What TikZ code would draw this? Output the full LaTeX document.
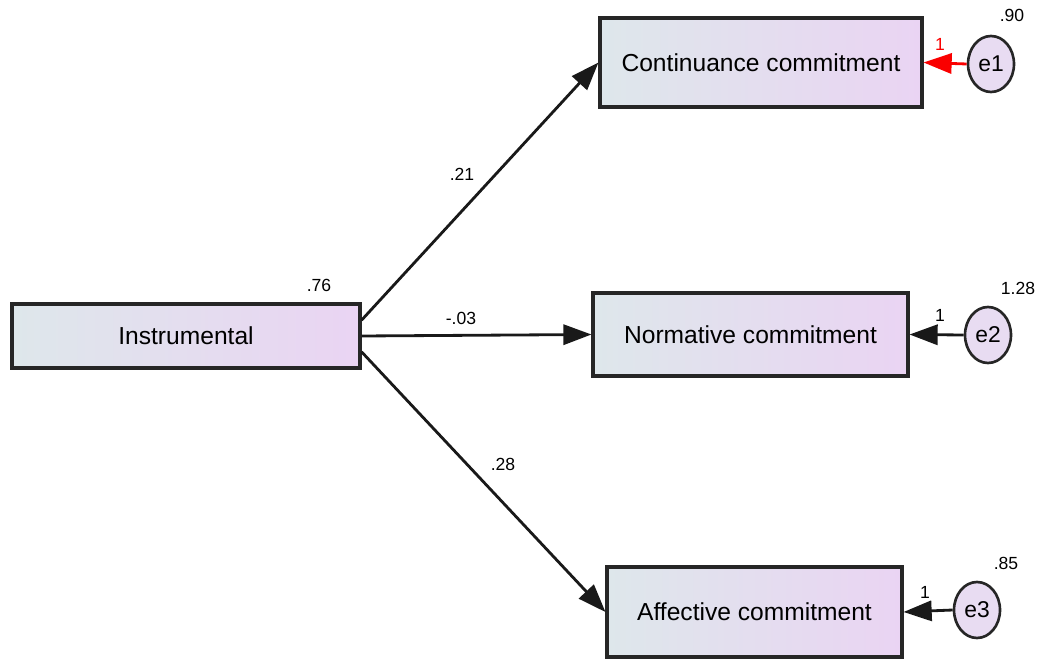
\documentclass[tikz,border=0pt]{standalone}
\usepackage{fontspec}
\setmainfont{Liberation Sans}
\usetikzlibrary{shapes,arrows.meta,positioning,calc}
\definecolor{boxleft}{RGB}{222,231,235}
\definecolor{boxright}{RGB}{234,212,243}
\definecolor{errfill}{RGB}{232,220,242}
\definecolor{pathred}{RGB}{250,0,0}

\begin{document}
\begin{tikzpicture}[x=0.02cm, y=-0.02cm,
    obs/.style={draw=black!85, line width=1.8pt, rectangle, left color=boxleft, right color=boxright, font=\fontsize{14}{16}\selectfont},
    err/.style={draw=black!85, line width=1.5pt, ellipse, fill=errfill, inner sep=0pt, minimum width=0.92cm, minimum height=1.12cm, font=\fontsize{13}{15}\selectfont},
    link/.style={draw=black!90, line width=1.6pt, -{Triangle[length=16pt,width=11.5pt]}},
    coef/.style={font=\fontsize{10}{12}\selectfont}]
    \useasboundingbox (0,0) rectangle (1041,662);

    % Observed variables
    \node[obs, minimum width=6.44cm, minimum height=1.78cm] (cont) at (761,62.5) {Continuance commitment};
    \node[obs, minimum width=6.3cm, minimum height=1.66cm] (norm) at (750.5,334.5) {Normative commitment};
    \node[obs, minimum width=5.9cm, minimum height=1.8cm] (aff) at (754.5,612) {Affective commitment};
    \node[obs, minimum width=6.96cm, minimum height=1.28cm] (inst) at (186,336) {Instrumental};

    % Error terms
    \node[err] (e1) at (991,64) {e1};
    \node[err] (e2) at (988,335) {e2};
    \node[err] (e3) at (977,610) {e3};

    % Variances
    \node[coef] (v1) at (1012,15) {.90};
    \node[coef] (v2) at (1018,288) {1.28};
    \node[coef] (v3) at (1006,563) {.85};
    \node[coef] (v0) at (319,285) {.76};

    % Paths
    \draw[link] ([yshift=9pt]inst.east) -- (cont.west);
    \draw[link] (inst.east) -- (norm.west);
    \draw[link] ([yshift=-9pt]inst.east) -- (aff.west);
    \node[coef] (w1) at (462,174) {.21};
    \node[coef] (w2) at (461,318) {-.03};
    \node[coef] (w3) at (503,464) {.28};

    % Error paths
    \draw[link, draw=pathred, fill=pathred] (e1.west) -- (cont.east);
    \draw[link] (e2.west) -- (norm.east);
    \draw[link] (e3.west) -- (aff.east);
    \node[coef, text=pathred] (f1) at (940,44) {1};
    \node[coef] (f2) at (940,315) {1};
    \node[coef] (f3) at (925,592) {1};
\end{tikzpicture}
\end{document}
